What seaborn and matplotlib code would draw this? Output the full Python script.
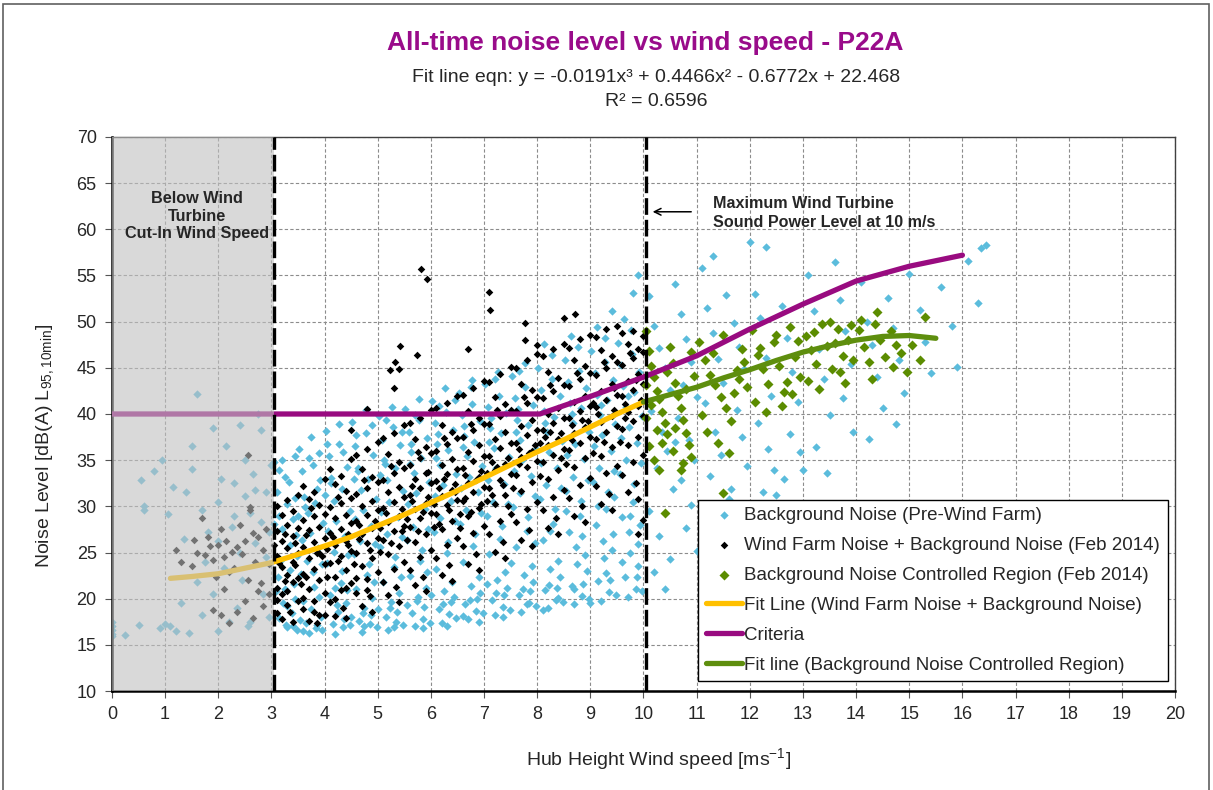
import matplotlib
matplotlib.use("Agg")
import matplotlib.pyplot as plt
import matplotlib.patches as mpatches
import pandas as pd
import seaborn as sns

# ---- data ----
# Background Noise (Pre-Wind Farm)
background_pts = [
    # below cut-in (0-3 m/s)
    (0.0, 16.2), (0.0, 16.6), (0.0, 17.0), (0.0, 17.5), (0.0, 16.0), (0.25, 16.1), (0.5, 17.2),
    (0.6, 30.0), (0.55, 32.8), (0.6, 29.6), (0.8, 33.8), (0.9, 16.8), (1.0, 17.3), (0.95, 35.0),
    (1.1, 17.0), (1.2, 16.5), (1.05, 29.2), (1.15, 32.1), (1.3, 19.5), (1.35, 26.5), (1.4, 31.5),
    (1.5, 34.0), (1.5, 36.5), (1.6, 42.2), (1.6, 21.8), (1.7, 18.2), (1.75, 24.0), (1.8, 27.2),
    (1.9, 38.5), (1.9, 20.5), (2.0, 30.5), (2.0, 16.5), (2.05, 33.0), (2.15, 36.5), (2.2, 17.5),
    (2.25, 27.8), (2.3, 32.5), (2.35, 19.0), (2.4, 38.8), (2.45, 22.0), (2.5, 35.0), (2.55, 17.0),
    (2.6, 29.3), (2.65, 33.5), (2.7, 26.0), (2.75, 40.0), (2.8, 38.3), (2.85, 20.5), (2.9, 31.5),
    (2.95, 18.0), (3.0, 34.5), (2.9, 24.5), (2.6, 17.5), (2.4, 25.0), (1.45, 16.3), (2.1, 23.3),
    (2.7, 31.8), (2.8, 28.3), (2.5, 31.1), (2.3, 29.0), (2.0, 26.3), (1.7, 29.6), (2.95, 27.2),
    # 3-10 m/s
    (3.05, 34.8), (3.1, 31.5), (3.15, 29.0), (3.2, 27.5), (3.25, 33.2), (3.3, 30.2), (3.35, 25.8),
    (3.4, 28.6), (3.45, 35.5), (3.12, 22.4), (3.22, 19.5), (3.28, 17.2), (3.38, 18.4), (3.48, 16.6),
    (3.08, 20.8), (3.18, 24.2), (3.42, 21.6), (3.33, 32.6), (3.46, 26.9), (3.15, 17.9), (3.35, 23.1),
    (3.05, 28.1), (3.25, 21.0), (3.44, 30.9), (3.2, 35.0), (3.4, 17.0), (3.3, 19.2), (3.48, 24.6),
    (3.52, 36.2), (3.58, 33.8), (3.62, 31.0), (3.68, 29.3), (3.72, 27.1), (3.78, 34.5), (3.82, 30.4),
    (3.88, 25.5), (3.92, 32.8), (3.97, 28.2), (3.55, 22.7), (3.6, 19.8), (3.65, 17.4), (3.7, 16.3),
    (3.75, 18.9), (3.8, 21.3), (3.85, 17.1), (3.9, 20.2), (3.95, 23.8), (3.57, 26.4), (3.66, 24.1),
    (3.74, 37.5), (3.84, 16.8), (3.94, 18.0), (3.63, 29.9), (3.89, 35.8), (3.53, 17.7), (3.79, 22.9),
    (4.02, 38.2), (4.08, 35.4), (4.12, 33.1), (4.18, 30.6), (4.22, 28.4), (4.28, 36.7), (4.32, 31.9),
    (4.38, 26.8), (4.42, 34.3), (4.47, 29.5), (4.05, 23.9), (4.1, 20.4), (4.15, 17.3), (4.2, 16.2),
    (4.25, 18.6), (4.3, 21.7), (4.35, 16.9), (4.4, 19.5), (4.45, 24.7), (4.07, 27.3), (4.17, 25.1),
    (4.27, 38.9), (4.37, 17.8), (4.43, 20.9), (4.13, 32.5), (4.33, 23.0), (4.48, 17.2), (4.23, 19.3),
    (4.52, 39.1), (4.58, 36.5), (4.62, 34.2), (4.68, 31.8), (4.72, 29.6), (4.78, 37.9), (4.82, 33.0),
    (4.88, 27.9), (4.92, 35.6), (4.97, 30.8), (4.55, 24.8), (4.6, 21.1), (4.65, 17.6), (4.7, 16.4),
    (4.75, 19.0), (4.8, 22.6), (4.85, 17.3), (4.9, 20.1), (4.95, 25.9), (4.57, 28.6), (4.67, 26.2),
    (4.77, 40.4), (4.87, 18.2), (4.93, 21.8), (4.63, 33.8), (4.83, 23.8), (4.98, 16.9), (4.73, 18.4),
    (5.02, 39.8), (5.08, 37.2), (5.12, 35.0), (5.18, 32.9), (5.22, 30.5), (5.28, 38.6), (5.32, 34.1),
    (5.38, 28.8), (5.42, 36.6), (5.47, 31.7), (5.05, 25.6), (5.1, 21.8), (5.15, 18.0), (5.2, 16.6),
    (5.25, 19.6), (5.3, 23.4), (5.35, 17.5), (5.4, 20.6), (5.45, 26.7), (5.07, 29.4), (5.17, 27.0),
    (5.27, 40.8), (5.37, 18.6), (5.43, 22.3), (5.13, 34.6), (5.33, 24.5), (5.48, 17.1), (5.23, 19.0),
    (5.52, 40.5), (5.58, 38.0), (5.62, 35.9), (5.68, 33.6), (5.72, 31.4), (5.78, 39.3), (5.82, 35.2),
    (5.88, 29.7), (5.92, 37.4), (5.97, 32.6), (5.55, 26.4), (5.6, 22.5), (5.65, 18.4), (5.7, 17.0),
    (5.75, 20.2), (5.8, 24.1), (5.85, 17.8), (5.9, 21.2), (5.95, 27.5), (5.57, 30.2), (5.67, 27.8),
    (5.77, 41.6), (5.87, 19.1), (5.93, 22.9), (5.63, 36.8), (5.83, 25.3), (5.98, 17.4), (5.73, 19.7),
    (6.02, 41.4), (6.08, 39.0), (6.12, 36.7), (6.18, 34.5), (6.22, 32.3), (6.28, 40.2), (6.32, 36.1),
    (6.38, 30.6), (6.42, 38.3), (6.47, 33.5), (6.05, 27.2), (6.1, 23.2), (6.15, 18.9), (6.2, 17.4),
    (6.25, 20.8), (6.3, 24.9), (6.35, 18.3), (6.4, 21.8), (6.45, 28.4), (6.07, 31.1), (6.17, 28.7),
    (6.27, 42.8), (6.37, 19.6), (6.43, 20.2), (6.13, 37.8), (6.33, 26.1), (6.48, 17.9), (6.23, 19.4),
    (6.52, 42.3), (6.58, 39.9), (6.62, 37.6), (6.68, 35.4), (6.72, 33.2), (6.78, 41.1), (6.82, 37.0),
    (6.88, 31.5), (6.92, 39.2), (6.97, 34.4), (6.55, 28.1), (6.6, 24.0), (6.65, 19.4), (6.7, 17.8),
    (6.75, 21.4), (6.8, 25.7), (6.85, 18.7), (6.9, 22.3), (6.95, 29.3), (6.57, 32.0), (6.67, 29.6),
    (6.77, 43.7), (6.87, 20.0), (6.93, 20.6), (6.63, 38.7), (6.83, 27.0), (6.98, 18.4), (6.73, 19.9),
    (7.02, 43.2), (7.08, 40.8), (7.12, 38.5), (7.18, 36.3), (7.22, 34.1), (7.28, 42.0), (7.32, 37.9),
    (7.38, 32.4), (7.42, 40.1), (7.47, 35.3), (7.05, 29.0), (7.1, 24.8), (7.15, 19.9), (7.2, 18.2),
    (7.25, 22.0), (7.3, 26.5), (7.35, 19.1), (7.4, 22.9), (7.45, 30.2), (7.07, 32.9), (7.17, 30.5),
    (7.27, 44.6), (7.37, 20.4), (7.43, 21.2), (7.13, 39.6), (7.33, 27.9), (7.48, 18.8), (7.23, 20.6),
    (7.52, 44.1), (7.58, 41.7), (7.62, 39.4), (7.68, 37.2), (7.72, 35.0), (7.78, 42.9), (7.82, 38.8),
    (7.88, 33.3), (7.92, 41.0), (7.97, 36.2), (7.55, 29.9), (7.6, 25.6), (7.65, 20.4), (7.7, 18.6),
    (7.75, 22.6), (7.8, 27.3), (7.85, 19.5), (7.9, 23.5), (7.95, 31.1), (7.57, 33.8), (7.67, 31.4),
    (7.77, 45.5), (7.87, 20.8), (7.93, 21.8), (7.63, 40.5), (7.83, 28.8), (7.98, 19.2), (7.73, 21.0),
    (8.02, 45.0), (8.08, 42.6), (8.12, 40.3), (8.18, 38.1), (8.22, 35.9), (8.28, 43.8), (8.32, 39.7),
    (8.38, 34.2), (8.42, 41.9), (8.47, 37.1), (8.05, 30.8), (8.1, 26.4), (8.15, 20.9), (8.2, 19.0),
    (8.25, 23.2), (8.3, 28.1), (8.35, 19.9), (8.4, 24.1), (8.45, 32.0), (8.07, 34.7), (8.17, 32.3),
    (8.27, 46.4), (8.37, 21.2), (8.43, 22.4), (8.13, 47.6), (8.33, 29.7), (8.48, 19.6), (8.23, 21.5),
    (8.52, 45.9), (8.58, 43.5), (8.62, 41.2), (8.68, 39.0), (8.72, 36.8), (8.78, 44.7), (8.82, 40.6),
    (8.88, 35.1), (8.92, 42.8), (8.97, 38.0), (8.55, 31.7), (8.6, 27.2), (8.65, 21.4), (8.7, 19.4),
    (8.75, 23.8), (8.8, 28.9), (8.85, 20.3), (8.9, 24.7), (8.95, 32.9), (8.57, 35.6), (8.67, 33.2),
    (8.77, 47.3), (8.87, 21.6), (8.93, 23.0), (8.63, 48.5), (8.83, 30.6), (8.98, 20.0), (8.73, 25.6),
    (9.02, 46.8), (9.08, 44.4), (9.12, 42.1), (9.18, 39.9), (9.22, 37.7), (9.28, 45.6), (9.32, 41.5),
    (9.38, 36.0), (9.42, 43.7), (9.47, 38.9), (9.05, 32.6), (9.1, 28.0), (9.15, 21.9), (9.2, 19.8),
    (9.25, 24.4), (9.3, 29.7), (9.35, 20.7), (9.4, 25.3), (9.45, 33.8), (9.07, 36.5), (9.17, 34.1),
    (9.27, 48.2), (9.37, 22.0), (9.43, 27.0), (9.13, 49.4), (9.33, 31.5), (9.48, 20.4), (9.23, 26.2),
    (9.52, 47.7), (9.58, 45.3), (9.62, 43.0), (9.68, 40.8), (9.72, 38.6), (9.78, 46.5), (9.82, 42.4),
    (9.88, 36.9), (9.92, 44.6), (9.97, 39.8), (9.55, 33.5), (9.6, 28.8), (9.65, 22.4), (9.7, 20.2),
    (9.75, 25.0), (9.8, 30.5), (9.85, 21.1), (9.9, 25.9), (9.95, 34.7), (9.57, 37.4), (9.67, 35.0),
    (9.77, 49.1), (9.87, 22.4), (9.93, 28.0), (9.63, 50.3), (9.83, 32.4), (9.98, 20.8), (9.73, 27.2),
    (9.8, 53.1), (9.9, 55.0), (9.4, 51.2),
    (3.15, 33.9), (3.3, 16.9), (3.45, 20.0), (3.6, 16.5), (3.7, 35.2), (3.85, 31.9), (3.95, 16.6),
    (4.05, 36.8), (4.2, 21.2), (4.35, 35.9), (4.5, 18.0), (4.6, 37.7), (4.75, 17.0), (4.9, 38.8),
    (5.0, 18.9), (5.15, 39.3), (5.3, 16.9), (5.45, 38.0), (5.55, 19.3), (5.7, 39.9), (5.85, 16.8),
    (6.0, 20.4), (6.15, 40.9), (6.3, 17.0), (6.45, 41.5), (6.6, 18.1), (6.75, 42.9), (6.9, 17.5),
    (7.05, 21.6), (7.2, 43.8), (7.35, 18.0), (7.5, 23.9), (7.65, 44.7), (7.8, 19.4), (7.95, 26.0),
    (8.1, 18.8), (8.25, 27.3), (8.4, 20.1), (8.55, 29.5), (8.7, 21.0), (8.85, 26.8), (9.0, 19.5),
    (9.15, 30.0), (9.3, 22.8), (9.45, 31.0), (9.6, 24.0), (9.75, 29.0), (9.9, 23.5), (3.5, 29.0),
    (4.0, 31.2), (4.55, 33.0), (5.05, 33.4), (5.6, 34.6), (6.1, 35.2), (6.6, 36.4), (7.1, 37.0),
    (7.6, 38.0), (8.15, 39.0), (8.65, 40.0), (9.2, 41.0), (9.7, 42.0),
    # above 10 m/s
    (10.1, 52.8), (10.2, 49.5), (10.3, 47.2), (10.4, 45.0), (10.5, 42.6), (10.15, 40.3), (10.35, 38.1),
    (10.45, 36.0), (10.25, 34.2), (10.55, 31.9), (10.1, 29.5), (10.3, 26.8), (10.5, 24.3), (10.2, 22.9),
    (10.6, 54.1), (10.7, 50.8), (10.8, 48.1), (10.9, 45.6), (10.75, 43.1), (10.65, 39.6), (10.85, 37.2),
    (10.95, 35.0), (10.7, 32.8), (10.9, 30.1), (10.8, 27.6), (11.0, 25.2), (11.1, 55.8), (11.2, 51.5),
    (11.3, 48.8), (11.4, 46.0), (11.5, 43.4), (11.15, 41.2), (11.35, 38.0), (11.45, 35.6), (11.25, 33.3),
    (11.6, 30.8), (11.55, 52.9), (11.7, 49.9), (11.8, 47.3), (11.9, 44.9), (11.75, 40.4), (11.85, 37.5),
    (11.95, 34.4), (11.65, 31.9), (12.0, 58.6), (12.1, 53.0), (12.2, 50.4), (12.3, 46.1), (12.4, 42.0),
    (12.15, 39.0), (12.35, 36.2), (12.45, 33.9), (12.25, 31.5), (12.6, 51.7), (12.7, 48.2), (12.8, 44.6),
    (12.9, 41.3), (12.75, 37.8), (12.95, 35.9), (12.65, 33.0), (13.1, 55.1), (13.2, 51.2), (13.3, 47.0),
    (13.4, 43.8), (13.5, 39.9), (13.25, 36.4), (13.45, 33.6), (13.6, 56.5), (13.7, 52.4), (13.8, 49.0),
    (13.9, 45.4), (13.75, 41.7), (13.95, 38.1), (14.1, 54.3), (14.2, 50.0), (14.3, 47.5), (14.4, 44.0),
    (14.5, 40.6), (14.25, 37.3), (14.6, 52.6), (14.7, 49.3), (14.8, 45.8), (14.9, 42.3), (14.75, 38.9),
    (15.0, 55.2), (15.2, 51.3), (15.3, 47.8), (15.4, 44.4), (15.6, 53.7), (15.8, 49.5), (15.9, 45.1),
    (16.1, 56.6), (16.3, 52.0), (16.45, 58.3), (16.35, 58.0), (12.3, 58.1), (11.3, 57.1), (12.5, 31.2),
    (13.0, 33.9), (11.1, 23.3), (11.7, 22.7), (10.4, 21.0), (10.6, 37.0), (11.0, 41.8), (11.4, 29.0),
]

# Wind Farm Noise + Background Noise (Feb 2014)
windfarm_pts = [
    # below cut-in
    (1.2, 25.3), (1.3, 24.0), (1.5, 23.5), (1.55, 26.4), (1.6, 25.0), (1.7, 28.7), (1.75, 24.7),
    (1.8, 26.7), (1.85, 25.7), (1.9, 24.2), (1.95, 22.3), (2.0, 25.8), (2.05, 27.5), (2.1, 24.5),
    (2.15, 26.3), (2.2, 22.9), (2.25, 25.1), (2.3, 23.3), (2.35, 25.6), (2.4, 28.0), (2.45, 24.8),
    (2.5, 26.2), (2.55, 22.0), (2.6, 29.6), (2.65, 27.1), (2.7, 24.0), (2.75, 26.7), (2.8, 21.7),
    (2.85, 25.3), (2.9, 27.5), (2.95, 23.8), (1.9, 18.8), (2.05, 18.2), (2.2, 17.4), (2.35, 18.6),
    (2.5, 19.7), (2.65, 17.9), (2.75, 20.8), (2.85, 19.2), (2.95, 20.5), (2.55, 35.6), (2.1, 21.1),
    (2.6, 29.9),
    # 3-10 m/s
    (3.1, 30.0), (3.1, 27.3), (3.1, 24.6), (3.1, 21.2), (3.1, 18.4), (3.2, 29.1), (3.2, 26.2),
    (3.2, 23.4), (3.2, 20.5), (3.2, 17.8), (3.3, 30.7), (3.3, 28.0), (3.3, 25.5), (3.3, 22.6),
    (3.3, 19.3), (3.4, 29.5), (3.4, 26.8), (3.4, 24.0), (3.4, 21.8), (3.4, 17.5), (3.5, 31.2),
    (3.5, 27.6), (3.5, 25.0), (3.5, 22.2), (3.5, 19.8), (3.15, 23.9), (3.25, 27.0), (3.35, 18.6),
    (3.45, 26.0), (3.05, 25.8),
    (3.6, 32.2), (3.6, 28.5), (3.6, 25.6), (3.6, 22.7), (3.6, 18.9), (3.7, 30.8), (3.7, 27.4),
    (3.7, 24.4), (3.7, 21.0), (3.7, 17.6), (3.8, 31.6), (3.8, 28.9), (3.8, 26.1), (3.8, 23.2),
    (3.8, 19.7), (3.9, 30.1), (3.9, 27.8), (3.9, 25.0), (3.9, 22.0), (3.9, 18.2), (4.0, 33.0),
    (4.0, 29.2), (4.0, 26.6), (4.0, 23.8), (4.0, 20.6), (3.65, 26.9), (3.75, 29.8), (3.85, 17.4),
    (3.95, 24.6), (3.55, 21.6),
    (4.1, 34.0), (4.1, 29.9), (4.1, 27.1), (4.1, 23.9), (4.1, 19.6), (4.2, 32.4), (4.2, 28.7),
    (4.2, 25.8), (4.2, 22.3), (4.2, 18.1), (4.3, 33.3), (4.3, 30.4), (4.3, 27.5), (4.3, 24.6),
    (4.3, 20.9), (4.4, 31.7), (4.4, 29.1), (4.4, 26.3), (4.4, 23.1), (4.4, 17.9), (4.5, 35.1),
    (4.5, 30.9), (4.5, 28.2), (4.5, 25.2), (4.5, 21.7), (4.15, 26.7), (4.25, 31.0), (4.35, 19.0),
    (4.45, 27.0), (4.05, 22.4),
    (4.6, 35.6), (4.6, 31.3), (4.6, 28.4), (4.6, 25.0), (4.6, 20.6), (4.7, 34.0), (4.7, 30.0),
    (4.7, 27.0), (4.7, 23.5), (4.7, 19.2), (4.8, 36.2), (4.8, 32.0), (4.8, 29.1), (4.8, 26.0),
    (4.8, 22.1), (4.9, 33.2), (4.9, 30.6), (4.9, 27.7), (4.9, 24.4), (4.9, 18.6), (5.0, 37.0),
    (5.0, 32.6), (5.0, 29.6), (5.0, 26.6), (5.0, 22.9), (4.65, 28.0), (4.75, 32.8), (4.85, 20.3),
    (4.95, 28.4), (4.55, 23.8), (4.8, 40.5), (4.5, 38.3),
    (5.1, 37.4), (5.1, 32.9), (5.1, 29.8), (5.1, 26.4), (5.1, 21.8), (5.2, 35.7), (5.2, 31.5),
    (5.2, 28.3), (5.2, 24.8), (5.2, 20.4), (5.3, 37.9), (5.3, 33.6), (5.3, 30.5), (5.3, 27.3),
    (5.3, 23.2), (5.4, 34.8), (5.4, 32.1), (5.4, 29.0), (5.4, 25.7), (5.4, 19.6), (5.5, 38.8),
    (5.5, 34.2), (5.5, 31.0), (5.5, 27.9), (5.5, 24.0), (5.15, 29.3), (5.25, 34.4), (5.35, 21.3),
    (5.45, 29.7), (5.05, 25.1), (5.3, 42.8), (5.4, 44.9), (5.23, 44.8), (5.32, 45.6), (5.42, 47.4),
    (5.6, 39.0), (5.6, 34.5), (5.6, 31.2), (5.6, 27.8), (5.6, 23.1), (5.7, 37.3), (5.7, 33.0),
    (5.7, 29.7), (5.7, 26.1), (5.7, 21.5), (5.8, 39.6), (5.8, 35.2), (5.8, 32.0), (5.8, 28.7),
    (5.8, 24.5), (5.9, 36.4), (5.9, 33.6), (5.9, 30.4), (5.9, 27.0), (5.9, 20.8), (6.0, 40.4),
    (6.0, 35.8), (6.0, 32.5), (6.0, 29.3), (6.0, 25.3), (5.65, 30.6), (5.75, 35.9), (5.85, 22.4),
    (5.95, 31.0), (5.55, 26.4), (5.81, 55.7), (5.93, 54.6), (5.74, 46.4),
    (6.1, 40.6), (6.1, 36.0), (6.1, 32.7), (6.1, 29.2), (6.1, 24.4), (6.2, 38.8), (6.2, 34.5),
    (6.2, 31.1), (6.2, 27.5), (6.2, 22.6), (6.3, 41.2), (6.3, 36.8), (6.3, 33.5), (6.3, 30.1),
    (6.3, 25.8), (6.4, 38.0), (6.4, 35.1), (6.4, 31.8), (6.4, 28.4), (6.4, 21.9), (6.5, 42.0),
    (6.5, 37.4), (6.5, 34.0), (6.5, 30.7), (6.5, 26.6), (6.15, 32.0), (6.25, 37.4), (6.35, 23.6),
    (6.45, 32.4), (6.05, 27.8),
    (6.6, 42.1), (6.6, 37.5), (6.6, 34.1), (6.6, 30.6), (6.6, 25.7), (6.7, 40.3), (6.7, 35.9),
    (6.7, 32.5), (6.7, 28.9), (6.7, 23.8), (6.8, 42.8), (6.8, 38.3), (6.8, 34.9), (6.8, 31.5),
    (6.8, 27.1), (6.9, 39.6), (6.9, 36.6), (6.9, 33.2), (6.9, 29.8), (6.9, 23.1), (7.0, 43.6),
    (7.0, 38.9), (7.0, 35.5), (7.0, 32.1), (7.0, 27.9), (6.65, 33.4), (6.75, 38.9), (6.85, 24.8),
    (6.95, 33.8), (6.55, 29.2), (6.7, 47.0),
    (7.1, 43.5), (7.1, 38.9), (7.1, 35.5), (7.1, 32.0), (7.1, 27.0), (7.2, 41.8), (7.2, 37.3),
    (7.2, 33.9), (7.2, 30.3), (7.2, 25.1), (7.3, 44.3), (7.3, 39.8), (7.3, 36.3), (7.3, 32.9),
    (7.3, 28.4), (7.4, 41.1), (7.4, 38.0), (7.4, 34.6), (7.4, 31.2), (7.4, 24.4), (7.5, 45.1),
    (7.5, 40.4), (7.5, 36.9), (7.5, 33.5), (7.5, 29.2), (7.15, 34.8), (7.25, 40.4), (7.35, 26.1),
    (7.45, 35.2), (7.05, 30.6), (7.09, 53.2), (7.11, 51.3),
    (7.6, 45.0), (7.6, 40.3), (7.6, 36.9), (7.6, 33.4), (7.6, 28.3), (7.7, 43.2), (7.7, 38.7),
    (7.7, 35.3), (7.7, 31.7), (7.7, 26.4), (7.8, 45.8), (7.8, 41.2), (7.8, 37.7), (7.8, 34.3),
    (7.8, 29.7), (7.9, 42.6), (7.9, 39.4), (7.9, 36.0), (7.9, 32.6), (7.9, 25.7), (8.0, 46.5),
    (8.0, 41.8), (8.0, 38.3), (8.0, 34.9), (8.0, 30.5), (7.65, 36.2), (7.75, 41.8), (7.85, 27.4),
    (7.95, 36.6), (7.55, 32.0), (7.77, 49.9), (7.77, 48.0), (8.0, 47.5),
    (8.1, 46.3), (8.1, 41.7), (8.1, 38.3), (8.1, 34.8), (8.1, 29.6), (8.2, 44.5), (8.2, 40.0),
    (8.2, 36.6), (8.2, 33.0), (8.2, 27.7), (8.3, 47.0), (8.3, 42.5), (8.3, 39.0), (8.3, 35.6),
    (8.3, 31.0), (8.4, 43.9), (8.4, 40.7), (8.4, 37.3), (8.4, 33.9), (8.4, 27.0), (8.5, 47.6),
    (8.5, 43.1), (8.5, 39.6), (8.5, 36.2), (8.5, 31.8), (8.15, 37.5), (8.25, 43.1), (8.35, 28.7),
    (8.45, 37.9), (8.05, 33.3), (8.5, 50.4),
    (8.6, 47.2), (8.6, 43.0), (8.6, 39.6), (8.6, 36.1), (8.6, 30.9), (8.7, 45.8), (8.7, 41.3),
    (8.7, 37.9), (8.7, 34.3), (8.7, 29.0), (8.8, 48.1), (8.8, 43.8), (8.8, 40.3), (8.8, 36.9),
    (8.8, 32.3), (8.9, 45.2), (8.9, 42.0), (8.9, 38.6), (8.9, 35.2), (8.9, 28.3), (9.0, 48.6),
    (9.0, 44.4), (9.0, 40.9), (9.0, 37.5), (9.0, 33.1), (8.65, 38.8), (8.75, 44.4), (8.85, 30.0),
    (8.95, 39.2), (8.55, 34.6), (8.71, 50.8),
    (9.1, 48.3), (9.1, 44.2), (9.1, 40.8), (9.1, 37.3), (9.1, 32.2), (9.2, 46.9), (9.2, 42.5),
    (9.2, 39.1), (9.2, 35.5), (9.2, 30.3), (9.3, 49.2), (9.3, 45.0), (9.3, 41.5), (9.3, 38.1),
    (9.3, 33.6), (9.4, 46.3), (9.4, 43.2), (9.4, 39.8), (9.4, 36.4), (9.4, 29.6), (9.5, 49.5),
    (9.5, 45.6), (9.5, 42.1), (9.5, 38.7), (9.5, 34.4), (9.15, 40.0), (9.25, 45.6), (9.35, 31.3),
    (9.45, 40.4), (9.05, 35.8),
    (9.6, 48.8), (9.6, 45.3), (9.6, 41.9), (9.6, 38.4), (9.6, 33.4), (9.7, 47.6), (9.7, 43.6),
    (9.7, 40.2), (9.7, 36.6), (9.7, 31.5), (9.8, 49.0), (9.8, 46.1), (9.8, 42.6), (9.8, 39.2),
    (9.8, 34.8), (9.9, 47.0), (9.9, 44.3), (9.9, 40.9), (9.9, 37.5), (9.9, 30.8), (10.0, 48.4),
    (10.0, 46.7), (10.0, 43.2), (10.0, 39.8), (10.0, 35.6), (9.65, 41.1), (9.75, 46.6), (9.85, 32.5),
    (9.95, 41.5), (9.55, 37.0), (10.0, 28.5), (9.9, 27.0),
    (5.55, 28.6), (5.65, 32.2), (5.75, 27.3), (5.85, 29.4), (5.95, 33.7), (6.05, 30.2), (6.15, 28.1),
    (6.25, 33.0), (6.35, 29.6), (6.45, 31.5), (6.55, 27.6), (6.65, 30.9), (6.75, 29.4), (6.85, 32.8),
    (6.95, 30.3), (7.05, 33.6), (7.15, 31.2), (7.25, 34.3), (7.35, 32.3), (7.45, 30.0), (4.05, 25.4),
    (4.25, 24.1), (4.45, 25.8), (4.65, 26.5), (4.85, 25.3), (5.05, 27.7), (5.25, 26.0), (5.45, 27.3),
    (3.25, 21.9), (3.45, 23.6), (3.65, 22.4), (3.85, 24.9), (7.65, 34.6), (7.85, 35.8), (8.05, 36.9),
    (8.25, 38.1), (8.45, 35.2), (8.65, 37.2), (8.85, 39.4), (9.05, 41.2), (9.25, 37.0), (9.45, 42.8),
    (9.65, 39.6), (9.85, 43.7), (3.1, 19.9), (3.3, 20.8), (3.6, 20.1), (3.8, 18.6), (4.0, 18.2),
    (4.2, 20.0), (4.4, 21.2), (4.6, 22.2), (4.8, 20.9),
]

# Background Noise Controlled Region (Feb 2014)
controlled_pts = [
    (10.05, 49.0), (10.1, 46.8), (10.15, 45.2), (10.2, 44.0), (10.25, 42.5), (10.3, 41.6), (10.35, 40.2),
    (10.4, 39.0), (10.45, 37.8), (10.1, 36.5), (10.2, 35.0), (10.3, 33.9), (10.05, 43.1), (10.15, 41.0),
    (10.25, 38.3), (10.35, 36.9), (10.45, 44.6), (10.4, 29.3), (10.5, 47.3), (10.05, 39.6),
    (10.55, 45.5), (10.6, 43.4), (10.65, 41.9), (10.7, 40.6), (10.75, 39.4), (10.8, 37.9), (10.85, 36.6),
    (10.9, 35.3), (10.95, 44.1), (10.6, 38.5), (10.7, 33.9), (10.8, 42.7), (10.9, 46.7), (10.55, 36.0),
    (10.75, 34.7),
    (11.05, 47.8), (11.15, 45.9), (11.25, 44.2), (11.35, 43.1), (11.45, 41.8), (11.55, 40.6), (11.65, 39.2),
    (11.75, 44.8), (11.85, 47.0), (11.95, 42.9), (11.1, 39.9), (11.3, 46.6), (11.5, 48.6), (11.7, 42.3),
    (11.9, 45.6), (11.2, 38.0), (11.4, 36.9), (11.6, 35.8), (11.5, 31.4), (11.8, 43.8),
    (12.05, 49.1), (12.15, 46.4), (12.25, 44.9), (12.35, 43.3), (12.45, 47.8), (12.55, 45.2), (12.65, 42.4),
    (12.75, 49.4), (12.85, 46.2), (12.95, 44.0), (12.1, 41.3), (12.3, 40.2), (12.5, 48.6), (12.7, 43.5),
    (12.9, 47.9), (12.6, 40.9), (12.2, 47.2), (12.8, 42.2),
    (13.05, 48.5), (13.15, 46.9), (13.25, 45.4), (13.35, 49.8), (13.45, 47.4), (13.55, 44.9), (13.65, 49.2),
    (13.75, 46.3), (13.85, 48.0), (13.95, 45.8), (13.1, 43.6), (13.3, 42.7), (13.5, 50.0), (13.7, 44.5),
    (13.9, 49.6), (13.2, 48.9), (13.6, 47.7), (13.8, 43.4),
    (14.05, 49.1), (14.15, 47.3), (14.25, 45.6), (14.35, 49.8), (14.45, 48.0), (14.55, 46.2), (14.65, 49.0),
    (14.75, 47.5), (14.85, 46.6), (14.95, 44.5), (14.1, 50.2), (14.3, 43.8), (14.4, 51.0), (14.7, 45.1),
    (15.3, 50.5), (15.05, 47.5), (15.2, 45.9),
]

# Fit Line (Wind Farm Noise + Background Noise)
fit_x = [1.1, 1.5, 2.0, 2.5, 3.0, 3.5, 4.0, 4.5, 5.0, 5.5, 6.0, 6.5, 7.0, 7.5, 8.0, 8.5, 9.0, 9.5, 10.0]
fit_y = [22.2, 22.4, 22.7, 23.3, 23.9, 24.8, 25.7, 26.7, 27.9, 29.1, 30.4, 31.7, 33.1, 34.5, 35.9,
         37.2, 38.6, 40.0, 41.3]

# Criteria
crit_x = [0, 8.05, 9, 10, 11, 12, 13, 14, 15, 16]
crit_y = [40, 40, 41.9, 44.0, 46.3, 49.2, 51.9, 54.4, 56.0, 57.2]

# Fit line (Background Noise Controlled Region)
ctrl_fit_x = [10.0, 10.5, 11.0, 11.5, 12.0, 12.5, 13.0, 13.5, 14.0, 14.5, 15.0, 15.5]
ctrl_fit_y = [41.3, 42.1, 42.9, 43.9, 44.8, 45.8, 46.7, 47.4, 48.0, 48.4, 48.5, 48.2]

cut_in_speed = 3.05
max_power_speed = 10.05

bg_df = pd.DataFrame(background_pts, columns=["wind", "noise"])
wf_df = pd.DataFrame(windfarm_pts, columns=["wind", "noise"])
ctrl_df = pd.DataFrame(controlled_pts, columns=["wind", "noise"])

sns.set_theme(style="white")
plt.rcParams["font.family"] = ["Liberation Sans", "DejaVu Sans"]

fig = plt.figure(figsize=(12.13, 7.90), dpi=100)
ax = fig.add_axes([0.0923, 0.1253, 0.8764, 0.7013])

sns.scatterplot(data=bg_df, x="wind", y="noise", color="#5bbcdc", ax=ax, zorder=2,
                label="Background Noise (Pre-Wind Farm)", marker="D", s=18, linewidth=0)
sns.scatterplot(data=wf_df, x="wind", y="noise", color="black", ax=ax, zorder=3,
                label="Wind Farm Noise + Background Noise (Feb 2014)", marker="D", s=15, linewidth=0)
sns.scatterplot(data=ctrl_df, x="wind", y="noise", color="#5b8c00", ax=ax, zorder=3.5,
                label="Background Noise Controlled Region (Feb 2014)", marker="D", s=26, linewidth=0)

sns.lineplot(x=fit_x, y=fit_y, color="#ffc000", lw=3.8, ax=ax, zorder=4, sort=False,
             estimator=None, label="Fit Line (Wind Farm Noise + Background Noise)")
sns.lineplot(x=crit_x, y=crit_y, color="#990b80", lw=3.8, ax=ax, zorder=4, sort=False,
             estimator=None, label="Criteria")
sns.lineplot(x=ctrl_fit_x, y=ctrl_fit_y, color="#5e8e0e", lw=3.8, ax=ax, zorder=4.5, sort=False,
             estimator=None, label="Fit line (Background Noise Controlled Region)")

# shaded region below cut-in speed sits over the data
ax.axvspan(0, cut_in_speed, color="#c0c0c0", alpha=0.6, zorder=5, lw=0)
for xv in (cut_in_speed, max_power_speed):
    ax.axvline(xv, color="black", lw=2.4, ls=(0, (5, 1.5)), zorder=6)

ax.text(1.6, 61.4, "Below Wind\nTurbine\nCut-In Wind Speed", ha="center", va="center",
        fontsize=11.7, fontweight="bold", linespacing=1.2, zorder=7)
ax.text(11.3, 61.8, "Maximum Wind Turbine\nSound Power Level at 10 m/s", ha="left", va="center",
        fontsize=11.6, fontweight="bold", linespacing=1.3, zorder=7)
ax.annotate("", xy=(10.12, 61.9), xytext=(10.95, 61.9),
            arrowprops=dict(arrowstyle="->", color="black", lw=1.1), zorder=7)

ax.set_xlim(0, 20)
ax.set_ylim(10, 70)
ax.set_xticks(range(0, 21))
ax.set_yticks(range(10, 71, 5))
ax.tick_params(axis="both", labelsize=13, length=5, width=0.8, color="#555555",
               direction="out", bottom=True, left=True, pad=6)
ax.grid(True, color="#8c8c8c", ls=(0, (3, 2)), lw=0.8)
ax.set_axisbelow(True)
for side in ("left", "bottom"):
    ax.spines[side].set_color("black")
    ax.spines[side].set_linewidth(1.8)
for side in ("top", "right"):
    ax.spines[side].set_color("#404040")
    ax.spines[side].set_linewidth(1.0)

ax.set_xlabel(r"Hub Height Wind speed [ms$^\mathregular{-1}$]", fontsize=14)
ax.set_ylabel(r"Noise Level [dB(A) L$_\mathregular{95,10min}$]", fontsize=14)
ax.xaxis.set_label_coords(0.514, -0.1)
ax.yaxis.set_label_coords(-0.052, 0.442)

handles, labels = ax.get_legend_handles_labels()
leg = ax.legend(handles, labels, loc="lower right", bbox_to_anchor=(0.993, 0.018), fontsize=13.5,
                frameon=True, fancybox=False, edgecolor="black", framealpha=1,
                handlelength=1.9, handletextpad=0.15, labelspacing=0.68, borderpad=0.4,
                borderaxespad=0, markerscale=1.0)
leg.get_frame().set_linewidth(1.0)
leg.set_zorder(10)

fig.text(0.532, 0.945, "All-time noise level vs wind speed - P22A", ha="center", va="center",
         fontsize=19, fontweight="bold", color="#990b8a")
fig.text(0.541, 0.9013, "Fit line eqn: y = -0.0191x³ + 0.4466x² - 0.6772x + 22.468",
         ha="center", va="center", fontsize=14)
fig.text(0.541, 0.871, "R² = 0.6596", ha="center", va="center", fontsize=14)

# outer chart border
fig.patches.append(mpatches.Rectangle((3 / 1213, -0.02), 1206 / 1213, 1.02 - 4 / 790,
                                      transform=fig.transFigure, fill=False,
                                      edgecolor="#606060", lw=1.2))

fig.savefig("out.png", dpi=100)
